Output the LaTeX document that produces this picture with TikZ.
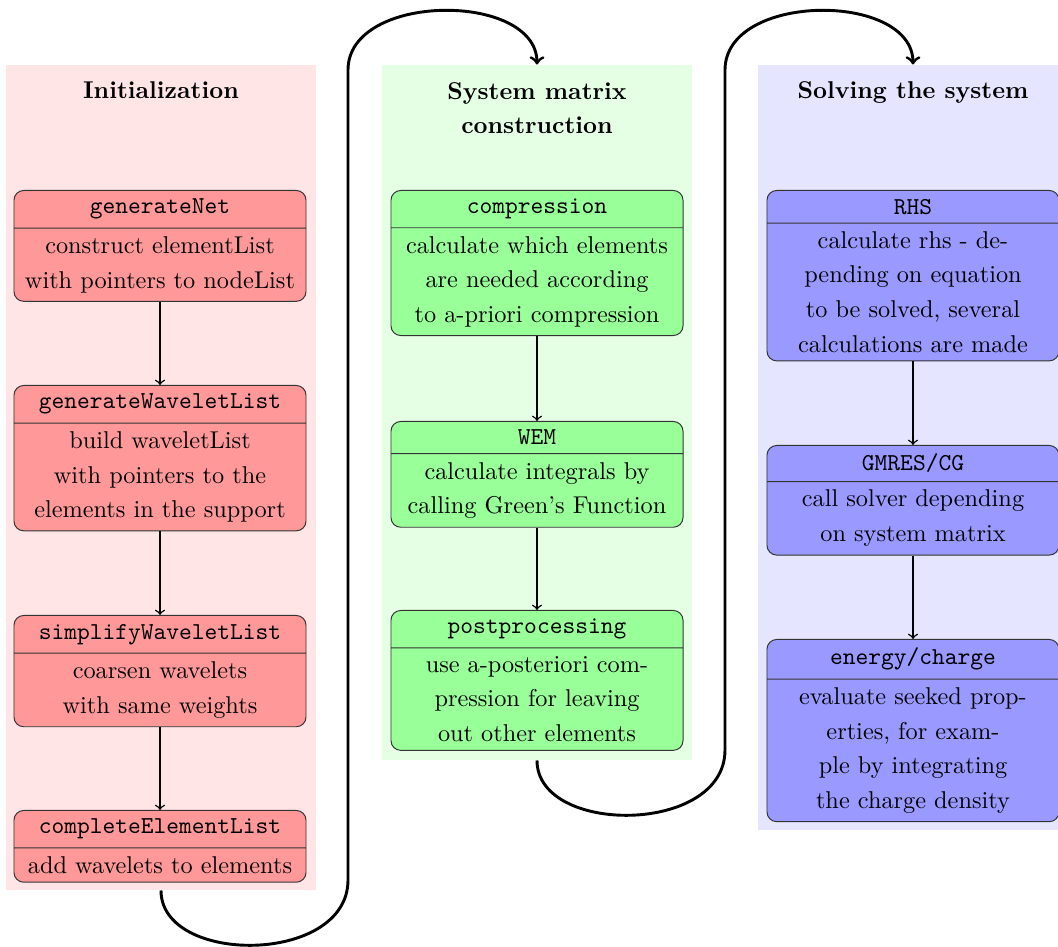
\documentclass[tikz,border=0pt]{standalone}
\usetikzlibrary{shapes.multipart}
\def\pxu{0.4115pt}
\begin{document}
\begin{tikzpicture}[x=0.4115pt,y=-0.4115pt,
  panel/.style={draw=none, inner sep=0pt, minimum width=310*\pxu},
  head/.style={font=\fontsize{10}{14.2}\selectfont\bfseries, align=center, inner sep=0pt},
  box/.style={rectangle split, rectangle split parts=2, draw=black!80, rounded corners=4pt,
    text width=113.5pt, align=center, font=\fontsize{10}{14.2}\selectfont, anchor=north},
  redbox/.style={box, fill=red!40},
  greenbox/.style={box, fill=green!40},
  bluebox/.style={box, fill=blue!40},
  flow/.style={->, semithick},
  bigflow/.style={->, line width=1.2pt}]
\useasboundingbox (0,0) rectangle (1058,947);
% panels
\node[panel, fill=red!10, minimum height=825*\pxu] (initbg) at (161,477.5) {};
\node[panel, fill=green!10, minimum height=695*\pxu] (sysbg) at (537,412.5) {};
\node[panel, fill=blue!10, minimum height=765*\pxu] (solbg) at (913,447.5) {};
% headings
\node[head, anchor=base] (h1) at (161,99) {Initialization};
\node[head, anchor=center] (h2) at (537,108) {System matrix\\construction};
\node[head, anchor=base] (h3) at (913,99) {Solving the system};
% red column
\node[redbox] (gn) at (160,190) {\texttt{generateNet}\nodepart{two}construct elementList\\with pointers to nodeList};
\node[redbox] (gwl) at (160,385) {\texttt{generateWaveletList}\nodepart{two}build waveletList\\with pointers to the\\elements in the support};
\node[redbox] (swl) at (160,615) {\texttt{simplifyWaveletList}\nodepart{two}coarsen wavelets\\with same weights};
\node[redbox] (cel) at (160,810) {\texttt{completeElementList}\nodepart{two}add wavelets to elements};
% green column
\node[greenbox] (cmp) at (537,190) {\texttt{compression}\nodepart{two}calculate which elements\\are needed according\\to a-priori compression};
\node[greenbox] (wem) at (537,421) {\texttt{WEM}\nodepart{two}calculate integrals by\\calling Green's Function};
\node[greenbox] (pp) at (537,610) {\texttt{postprocessing}\nodepart{two}use a-posteriori com-\\pression for leaving\\out other elements};
% blue column
\node[bluebox] (rhs) at (913,190) {\texttt{RHS}\nodepart{two}calculate rhs - de-\\pending on equation\\to be solved, several\\calculations are made};
\node[bluebox] (gm) at (913,445) {\texttt{GMRES/CG}\nodepart{two}call solver depending\\on system matrix};
\node[bluebox] (ec) at (913,639) {\texttt{energy/charge}\nodepart{two}evaluate seeked prop-\\erties, for exam-\\ple by integrating\\the charge density};
% arrows
\draw[flow] (gn.south) -- (gwl.north);
\draw[flow] (gwl.south) -- (swl.north);
\draw[flow] (swl.south) -- (cel.north);
\draw[flow] (cmp.south) -- (wem.north);
\draw[flow] (wem.south) -- (pp.north);
\draw[flow] (rhs.south) -- (gm.north);
\draw[flow] (gm.south) -- (ec.north);
% big connectors
\coordinate (c1a) at (348,880);
\coordinate (c1b) at (348,70);
\coordinate (c2a) at (725,750);
\coordinate (c2b) at (725,70);
\draw[bigflow] (initbg.south) .. controls +(0,75) and +(0,85) .. (c1a) -- (c1b)
  .. controls +(0,-78) and +(0,-73) .. (sysbg.north);
\draw[bigflow] (sysbg.south) .. controls +(0,75) and +(0,85) .. (c2a) -- (c2b)
  .. controls +(0,-78) and +(0,-73) .. (solbg.north);
\end{tikzpicture}
\end{document}
